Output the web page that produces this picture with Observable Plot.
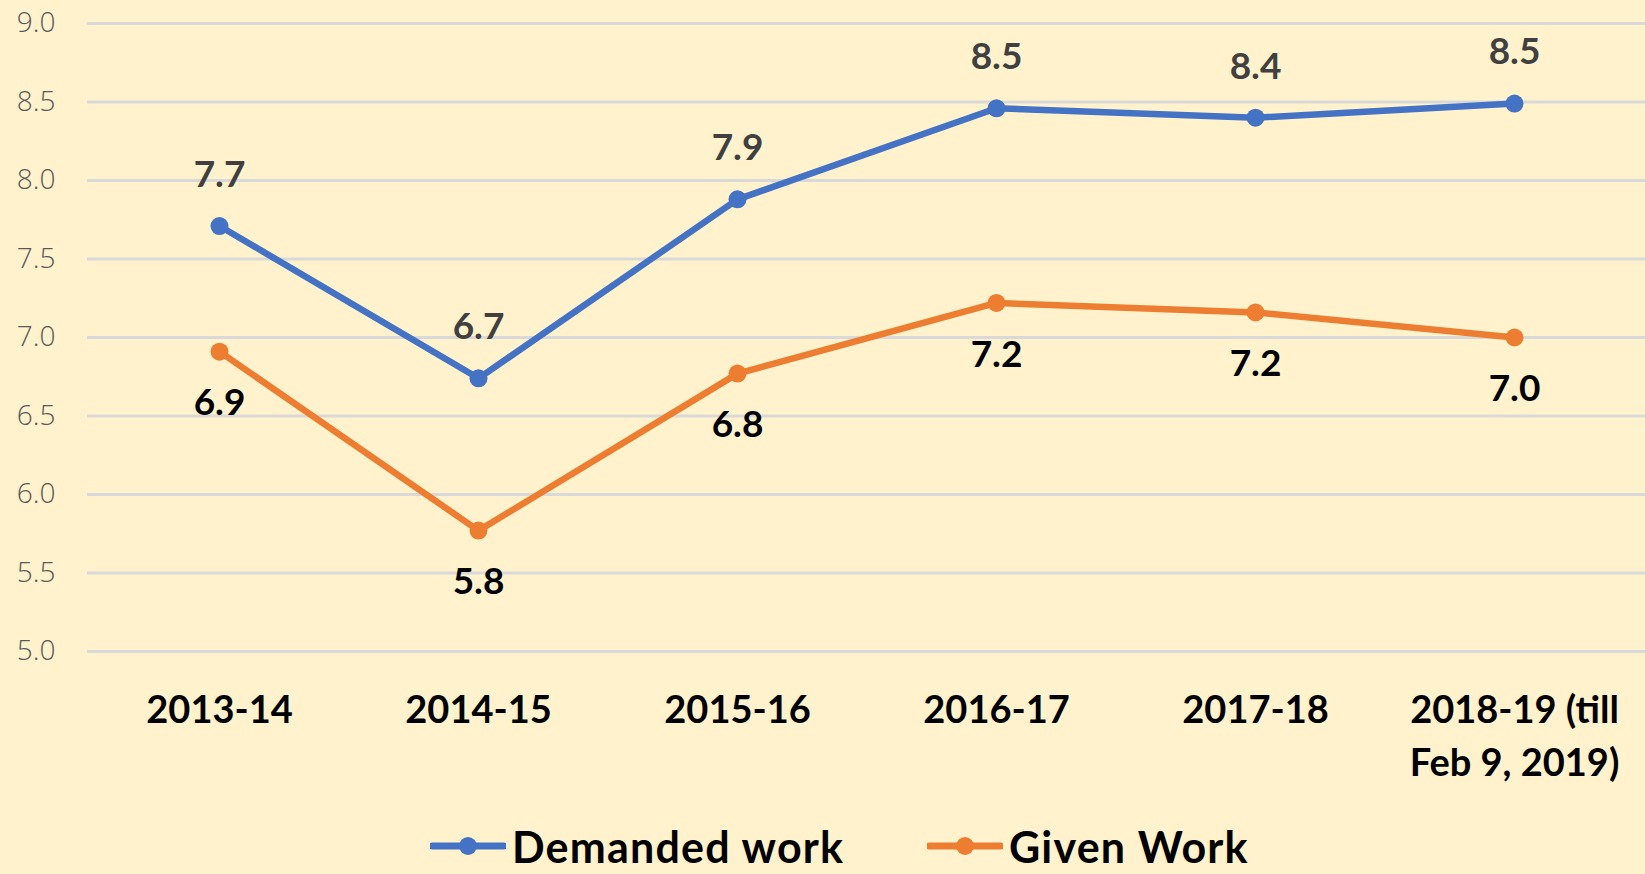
<!DOCTYPE html>
<html>
<head>
<meta charset="utf-8">
<script src="https://cdn.jsdelivr.net/npm/d3@7"></script>
<script src="https://cdn.jsdelivr.net/npm/@observablehq/plot@0.6"></script>
<style>
  html, body { margin: 0; padding: 0; background: #FFF2CC; }
  #wrap { position: relative; width: 1645px; height: 874px; overflow: hidden; background: #FFF2CC; }
  #legend { position: absolute; left: 0; top: 824px; width: 1645px; height: 44px; font-family: Lato, "Open Sans", sans-serif; font-size: 43px; line-height: 1; font-weight: bold; color: #000; }
  .item { position: absolute; top: 0; display: flex; align-items: center; height: 44px; }
  .item span { line-height: 1; letter-spacing: 1.2px; }
  .item svg { margin-right: 6px; }
</style>
</head>
<body>
<div id="wrap">
  <div id="chart"></div>
  <div id="legend"></div>
</div>
<script>
const years = ["2013-14", "2014-15", "2015-16", "2016-17", "2017-18", "2018-19 (till\nFeb 9, 2019)"];
const demanded = [7.71, 6.74, 7.88, 8.46, 8.40, 8.49];
const given = [6.91, 5.77, 6.77, 7.22, 7.16, 7.00];
const seriesNames = ["Demanded work", "Given Work"];
const seriesColors = ["#4472C4", "#ED7D31"];
const yTicks = [5.0, 5.5, 6.0, 6.5, 7.0, 7.5, 8.0, 8.5, 9.0];

const fmt = d3.format(".1f");
const dem = years.map((y, i) => ({year: y, value: demanded[i]}));
const giv = years.map((y, i) => ({year: y, value: given[i]}));

const chart = Plot.plot({
  width: 1645,
  height: 800,
  marginLeft: 87,
  marginRight: 0,
  marginTop: 23,
  marginBottom: 149,
  style: {background: "#FFF2CC", fontFamily: "Lato, 'Open Sans', sans-serif"},
  x: {type: "point", domain: years, padding: 0.5, label: null},
  y: {domain: [5, 9], label: null},
  marks: [
    Plot.ruleY(yTicks, {stroke: "#D9D9D9", strokeWidth: 3}),
    Plot.axisY({ticks: yTicks, tickSize: 0, tickPadding: 32, tickFormat: fmt, fontSize: 28, fill: "#595959", fontFamily: "'Open Sans', sans-serif", fontWeight: 300, label: null}),
    Plot.axisX({tickSize: 0, tickPadding: 34, fontSize: 38, fontWeight: "bold", fill: "#000", lineHeight: 1.4, label: null}),
    Plot.line(dem, {x: "year", y: "value", stroke: seriesColors[0], strokeWidth: 6.5}),
    Plot.dot(dem, {x: "year", y: "value", fill: seriesColors[0], r: 9}),
    Plot.line(giv, {x: "year", y: "value", stroke: seriesColors[1], strokeWidth: 6.5}),
    Plot.dot(giv, {x: "year", y: "value", fill: seriesColors[1], r: 9}),
    Plot.text(dem, {x: "year", y: "value", text: d => fmt(d.value), dy: -51, fontSize: 37, fontWeight: "bold", fill: "#404040"}),
    Plot.text(giv, {x: "year", y: "value", text: d => fmt(d.value), dy: 52, fontSize: 37, fontWeight: "bold", fill: "#000"})
  ]
});
document.getElementById("chart").appendChild(chart);

const legend = document.getElementById("legend");
const lefts = [430, 927];
seriesNames.forEach((name, i) => {
  const item = document.createElement("div");
  item.className = "item";
  item.style.left = lefts[i] + "px";
  item.innerHTML = `<svg width="76" height="24"><line x1="2" y1="12" x2="74" y2="12" stroke="${seriesColors[i]}" stroke-width="7" stroke-linecap="round"/><circle cx="38" cy="12" r="9" fill="${seriesColors[i]}"/></svg><span>${name}</span>`;
  legend.appendChild(item);
});
</script>
</body>
</html>
